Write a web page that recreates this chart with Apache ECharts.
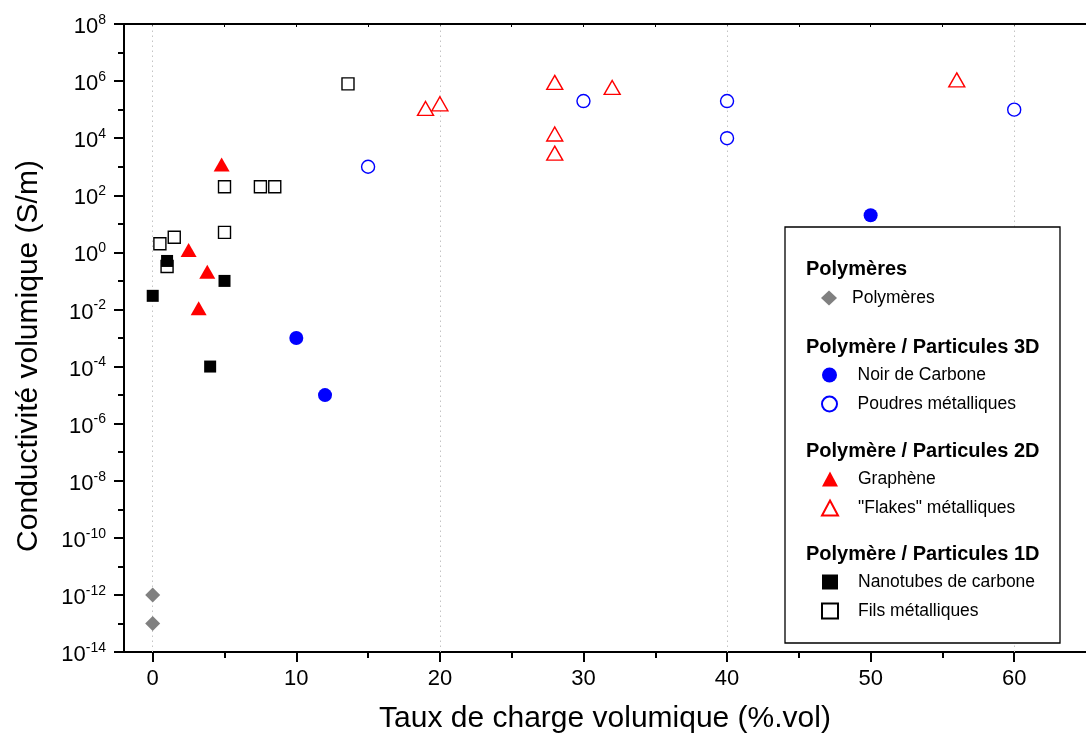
<!DOCTYPE html>
<html>
<head>
<meta charset="utf-8">
<title>Conductivité volumique</title>
<script src="https://cdn.jsdelivr.net/npm/echarts@6/dist/echarts.min.js"></script>
<style>
html,body{margin:0;padding:0;background:#fff;}
#chart{width:1086px;height:742px;}
</style>
</head>
<body>
<div id="chart"></div>
<script>
// values: x in %.vol, y in S/m (drawn on a log10 scale)
const polymeresX=[0,0];
const polymeresY=[1e-12,1e-13];

const noirX=[10,12,50];
const noirY=[1e-3,1e-5,20];

const poudresX=[15,30,40,40,60];
const poudresY=[1e3,2e5,2e5,1e4,1e5];

const grapheneX=[4.8,2.5,3.8,3.2];
const grapheneY=[1.2e3,1.2,0.21,0.011];

const flakesX=[19,20,28,32,28,28,56];
const flakesY=[1.1e5,1.6e5,9e5,6e5,1.4e4,3e3,1.1e6];

const nanotubesX=[0,1,5,4];
const nanotubesY=[0.03,0.5,0.1,1e-4];

const filsX=[13.6,5,7.5,8.5,5,0.5,1.5,1];
const filsY=[8e5,200,200,200,5,2,3.4,0.32];

const xTicks=[0,10,20,30,40,50,60];
const xMinorTicks=[5,15,25,35,45,55];
const xTopTicks=[0,5,10,15,20,25,30,35,40,45,50,55,60];
const xGridLines=[0,20,40,60];

const FONT="'Liberation Sans', Arial, sans-serif";

function toPoints(xs,ys){
    return xs.map((x,i)=>[x,Math.log10(ys[i])]);
}

function scatter(name,xs,ys,symbol,size,fill,stroke){
    return {
        type:"scatter",
        name:name,
        data:toPoints(xs,ys),
        symbol:symbol,
        symbolSize:size,
        itemStyle:{
            color:fill,
            borderColor:stroke,
            borderWidth:fill===stroke?0:1.4,
            opacity:1
        },
        emphasis:{disabled:true},
        z:3
    };
}

const legendBase={
    orient:"vertical",
    left:821,
    itemWidth:16,
    itemHeight:15,
    itemGap:11,
    padding:0,
    selectedMode:false,
    z:60,
    textStyle:{
        fontSize:17.5,
        color:"#000",
        fontFamily:FONT,
        lineHeight:15,
        padding:[0,0,0,15]
    }
};

const headings=[
    ["Polymères",269],
    ["Polymère / Particules 3D",347],
    ["Polymère / Particules 2D",451],
    ["Polymère / Particules 1D",554]
];

const chart=echarts.init(document.getElementById("chart"));

chart.setOption({
    animation:false,
    grid:{
        left:124,
        top:24,
        bottom:90,
        right:-11,
        containLabel:false
    },
    xAxis:[
        {
            type:"value",
            min:-2,
            max:65,
            position:"bottom",
            axisLine:{show:true,onZero:false,lineStyle:{color:"#000",width:2}},
            axisTick:{show:true,customValues:xTicks,length:10,lineStyle:{color:"#000",width:2}},
            axisLabel:{customValues:xTicks,fontSize:22,color:"#000",margin:16,fontFamily:FONT},
            splitLine:{show:false},
            name:"Taux de charge volumique (%.vol)",
            nameLocation:"middle",
            nameGap:52,
            nameTextStyle:{fontSize:30,color:"#000",fontFamily:FONT}
        },
        {
            type:"value",
            min:-2,
            max:65,
            position:"bottom",
            axisLine:{show:false,onZero:false},
            axisTick:{show:true,customValues:xMinorTicks,length:6,lineStyle:{color:"#000",width:2}},
            axisLabel:{show:false},
            splitLine:{show:false}
        },
        {
            type:"value",
            min:-2,
            max:65,
            position:"top",
            axisLine:{show:true,onZero:false,lineStyle:{color:"#000",width:2}},
            axisTick:{show:true,inside:true,customValues:xTopTicks,length:3,lineStyle:{color:"#000",width:1}},
            axisLabel:{show:false},
            splitLine:{show:false}
        }
    ],
    yAxis:{
        type:"value",
        min:-14,
        max:8,
        interval:2,
        position:"left",
        axisLine:{show:true,onZero:false,lineStyle:{color:"#000",width:2}},
        axisTick:{length:10,lineStyle:{color:"#000",width:2}},
        minorTick:{show:true,splitNumber:2,length:6,lineStyle:{color:"#000",width:2}},
        splitLine:{show:false},
        minorSplitLine:{show:false},
        axisLabel:{
            margin:18,
            color:"#000",
            formatter:v=>"{b|10}{s|"+v+"}",
            rich:{
                b:{fontSize:22,fontFamily:FONT,color:"#000",padding:[6,0,0,0],lineHeight:22},
                s:{fontSize:14,fontFamily:FONT,color:"#000",lineHeight:14,verticalAlign:"top"}
            }
        },
        name:"Conductivité volumique (S/m)",
        nameLocation:"middle",
        nameRotate:90,
        nameGap:80,
        nameTextStyle:{fontSize:30,color:"#000",fontFamily:FONT,padding:[0,36,0,0]}
    },
    legend:[
        Object.assign({},legendBase,{data:["Polymères"],top:289,textStyle:Object.assign({},legendBase.textStyle,{padding:[0,0,0,10]})}),
        Object.assign({},legendBase,{data:["Noir de Carbone","Poudres métalliques"],top:366}),
        Object.assign({},legendBase,{data:["Graphène","\"Flakes\" métalliques"],top:470}),
        Object.assign({},legendBase,{data:["Nanotubes de carbone","Fils métalliques"],top:573})
    ],
    graphic:[
        {
            type:"rect",
            z:50,
            shape:{x:785,y:227,width:275,height:416},
            style:{fill:"#fff",stroke:"#000",lineWidth:1.3}
        }
    ].concat(headings.map(h=>({
        type:"text",
        z:60,
        x:806,
        y:h[1],
        style:{
            text:h[0],
            font:"bold 20px "+FONT,
            fill:"#000",
            verticalAlign:"middle"
        }
    }))),
    series:[
        {
            type:"scatter",
            name:"grille",
            data:[],
            z:1,
            markLine:{
                z:1,
                silent:true,
                symbol:["none","none"],
                label:{show:false},
                lineStyle:{color:"#c4c4c4",type:[1.5,3.5],width:1},
                data:xGridLines.map(v=>({xAxis:v}))
            }
        },
        scatter("Polymères",polymeresX,polymeresY,"diamond",15,"#808080","#808080"),
        scatter("Noir de Carbone",noirX,noirY,"circle",14,"#0000ff","#0000ff"),
        scatter("Poudres métalliques",poudresX,poudresY,"circle",13,"#ffffff","#0000ff"),
        scatter("Graphène",grapheneX,grapheneY,"triangle",[16,14],"#ff0000","#ff0000"),
        scatter("\"Flakes\" métalliques",flakesX,flakesY,"triangle",[16,14],"#ffffff","#ff0000"),
        scatter("Fils métalliques",filsX,filsY,"rect",12,"#ffffff","#000000"),
        scatter("Nanotubes de carbone",nanotubesX,nanotubesY,"rect",12,"#000000","#000000")
    ]
});
</script>
</body>
</html>
